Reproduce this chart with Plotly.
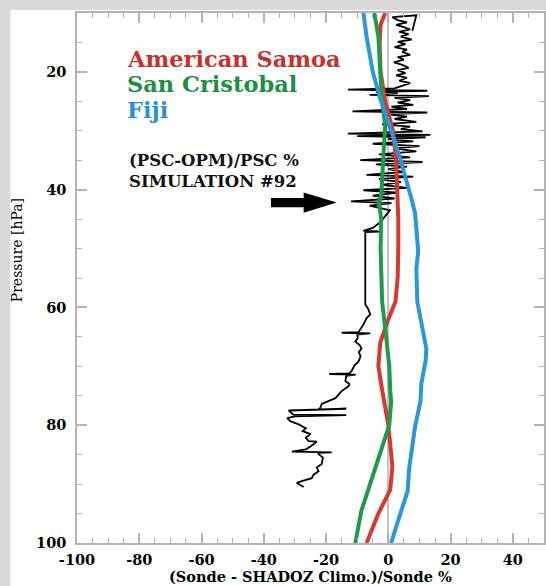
import plotly.graph_objects as go

# ---------------- data ----------------
x_tickvals = [-100, -80, -60, -40, -20, 0, 20, 40]
x_ticklabels = ["-100", "-80", "-60", "-40", "-20", "0", "20", "40"]
y_tickvals = [20, 40, 60, 80, 100]
y_ticklabels = ["20", "40", "60", "80", "100"]

series_names = ["American Samoa", "San Cristobal", "Fiji"]

samoa_p = [10, 12, 15, 20, 25, 30, 35, 40, 45, 50, 55, 59, 62, 66, 70, 74, 77, 80, 87, 91, 95, 100]
samoa_x = [-1, -2.5, -2.8, -2.5, -1, 1.5, 2.5, 3, 3.2, 3.2, 3, 2.3, 0, -2.6, -3.2, -2, -1, 0, 1.3, 0.6, -3.2, -7]

cristobal_p = [10, 14, 20, 25, 29, 35, 41, 42, 45, 50, 54, 59, 65, 70, 74, 76, 80, 84, 89.5, 94.6, 100]
cristobal_x = [-4.5, -3.2, -2.6, -2, -1, -1.6, -2.3, -3, -2.3, -2.5, -2.3, -2, -0.7, 0.3, 0.6, 0.9, 0.3, -2.2, -5.8, -8.7, -10.6]

fiji_p = [10, 14, 20, 24.6, 29, 34.7, 41.5, 44, 50.5, 53.4, 59, 63.6, 67, 69, 73, 76, 80.2, 87.3, 91.2, 95.1, 100]
fiji_x = [-8, -7, -5, -2.6, 0.3, 3.8, 7.4, 8.6, 9.6, 9, 9.3, 10.8, 12.2, 12, 10.6, 10.3, 8.6, 6.7, 6.2, 3.8, 0.9]

sim_p = [13.0, 10.4, 10.7, 11.2, 11.6, 12.0, 12.4, 12.8, 13.2, 13.6, 14.0, 14.5, 14.9, 15.3, 15.8, 16.2,
         16.6, 17.1, 17.5, 17.9, 18.4, 18.8, 19.3, 19.7, 20.2, 20.6, 21.0, 21.5, 21.9, 22.4, 22.8,
         23.0, 23.2, 23.4, 23.6, 23.9, 24.1, 24.4, 24.8, 25.2, 25.6, 25.9, 26.3, 26.7, 26.9, 27.2,
         27.6, 28.0, 28.5, 28.9, 29.3, 29.7, 30.1, 30.5, 30.7, 30.9, 31.1, 31.4, 31.8, 32.2, 32.6,
         33.0, 33.5, 34.0, 34.5, 35.0, 35.3, 35.7, 36.1, 36.5, 37.0, 37.5, 37.8, 38.2, 38.7, 39.2,
         39.7, 40.1, 40.5, 41.0, 41.5, 42.0, 42.3, 42.7, 43.5, 44.5, 45.5, 46.5, 47.0, 47.1, 47.2,
         59.5, 60.2, 61.2, 61.8, 62.9, 63.5, 64.2, 64.3, 64.4, 64.6, 65.2, 65.8, 66.4, 67.0, 67.6,
         68.3, 69.2, 69.8, 70.8, 71.2, 71.3, 71.4, 71.6, 72.5, 73.0, 73.4, 74.2, 75.4, 75.9, 76.4,
         77.0, 77.3, 77.2, 77.5, 78.2, 78.3, 78.5, 78.8, 79.3, 79.8, 80.5, 81.0, 81.5, 82.1, 82.7,
         82.8, 83.6, 84.1, 84.5, 84.6, 84.7, 84.9, 85.5, 86.6, 87.2, 87.8, 88.4, 89.0, 89.5, 89.8, 90.5]
sim_x = [7.7, 9, 1.3, 3, 6, 2.5, 5, 7, 3.5, 6.5, 4, 7.5, 3, 5.5, 2, 6,
         4.5, 7, 3, 5, 1.8, 4.5, 6.5, 3, 5.5, 2.5, 6, 3.5, 7, 4, 2,
         -13, 12.5, -4, 3, -6, 13, 2, 7, 3, 8, 1, 6, -11.5, 12.5, 0,
         6, 2, 9, -2, 7, 4, 11, -13, 13.5, -10, 12, 0, 8, -5, 10,
         2, 9, -3, 7, -9, 11, -4, 6, 0, 5, -7, 8, -3, 4, -2,
         6, -8, 3, -5, 2, -12, 1, -6, 0.5, -1, -2.5, -5, -8, -3, -7.4,
         -7.4, -6.5, -5.8, -7, -8, -8.8, -9.6, -15, -5.8, -10, -9.8, -10.6, -9.2, -8.6, -9.5,
         -8.9, -9.6, -10.8, -11.8, -12.5, -19, -10.5, -13.5, -13.8, -12.5, -12.8, -15, -17, -19, -21.4,
         -21.8, -22.4, -13.5, -32, -30.5, -13.5, -30, -32.5, -31.5, -29, -26.5, -27.5, -25, -26.5, -25.6,
         -23, -25, -26.5, -31, -18.2, -22.5, -22.4, -21, -21.4, -23, -22.4, -24, -24.6, -27.8, -29.4, -27.2]

# ---------------- styling ----------------
W, H = 546, 586
ML, MR, MT, MB = 77, 0, 13, 43
PW, PH = W - ML - MR, H - MT - MB

def px(x):
    return (x - ML) / PW

def py(y):
    return (H - MB - y) / PH

line_cols = ["#d33b32", "#1f9a4a", "#2b97d8"]
text_cols = ["#c8302b", "#1d8f45", "#2a90d2"]
frame_col = "#b3b3b3"
serif = "DejaVu Serif"

fig = go.Figure()

fig.add_trace(go.Scatter(x=sim_x, y=sim_p, mode="lines",
                         line=dict(color="black", width=1.8), showlegend=False, hoverinfo="skip"))
for name, xs, ps, c in [(series_names[0], samoa_x, samoa_p, line_cols[0]),
                        (series_names[1], cristobal_x, cristobal_p, line_cols[1]),
                        (series_names[2], fiji_x, fiji_p, line_cols[2])]:
    fig.add_trace(go.Scatter(x=xs, y=ps, mode="lines", name=name,
                             line=dict(color=c, width=4), showlegend=False))

axis_common = dict(showline=True, linecolor=frame_col, linewidth=1.5, mirror="ticks",
                   ticks="inside", ticklen=10, tickwidth=1.5, tickcolor=frame_col,
                   showgrid=False,
                   tickfont=dict(family=serif, size=14.5, color="black", weight="bold"),
                   minor=dict(ticks="inside", ticklen=5, tickwidth=1.2, tickcolor=frame_col, dtick=5, showgrid=False))

fig.update_xaxes(range=[-100, 50], tickvals=x_tickvals, ticktext=x_ticklabels,
                 zeroline=True, zerolinecolor="#c4c4c4", zerolinewidth=1.5,
                 ticklabelstandoff=3, **axis_common)
fig.update_yaxes(range=[100, 10], tickvals=y_tickvals, ticktext=y_ticklabels,
                 zeroline=False, ticklabelstandoff=6, **axis_common)

shapes = [
    dict(type="rect", xref="paper", yref="paper", x0=px(10), x1=px(W + 5), y0=py(H + 5), y1=py(10),
         fillcolor="white", line=dict(width=0), layer="below"),
    dict(type="path", xref="x", yref="y",
         path="M -37.7,41.4 L -27.2,41.4 L -27.2,40.5 L -16.6,42.2 L -27.2,43.9 L -27.2,43.0 L -37.7,43.0 Z",
         fillcolor="black", line=dict(width=0)),
]

annotations = []
for i, (name, yc) in enumerate(zip(series_names, [59, 84, 109.5])):
    annotations.append(dict(xref="paper", yref="paper", x=px(125), y=py(yc), text=name, showarrow=False,
                            xanchor="left", yanchor="middle",
                            font=dict(family=serif, size=22.5, color=text_cols[i], weight="bold")))
annotations.append(dict(xref="paper", yref="paper", x=px(127), y=py(160), text="(PSC-OPM)/PSC %",
                        showarrow=False, xanchor="left", yanchor="middle",
                        font=dict(family=serif, size=16.5, color="#111", weight="bold")))
annotations.append(dict(xref="paper", yref="paper", x=px(127), y=py(181), text="SIMULATION #92",
                        showarrow=False, xanchor="left", yanchor="middle",
                        font=dict(family=serif, size=16.5, color="#111", weight="bold")))
annotations.append(dict(xref="paper", yref="paper", x=px(17), y=py(250), text="Pressure [hPa]",
                        showarrow=False, textangle=-90, xanchor="center", yanchor="middle",
                        font=dict(family=serif, size=14, color="black")))
annotations.append(dict(xref="paper", yref="paper", x=px(312), y=py(576.5), text="(Sonde - SHADOZ Climo.)/Sonde %",
                        showarrow=False, xanchor="center", yanchor="middle",
                        font=dict(family=serif, size=14.5, color="black", weight="bold")))

fig.update_layout(width=W, height=H, margin=dict(l=ML, r=MR, t=MT, b=MB, pad=0),
                  paper_bgcolor="#d9d9d9", plot_bgcolor="rgba(0,0,0,0)",
                  shapes=shapes, annotations=annotations, showlegend=False)

fig.write_html("out.html")
